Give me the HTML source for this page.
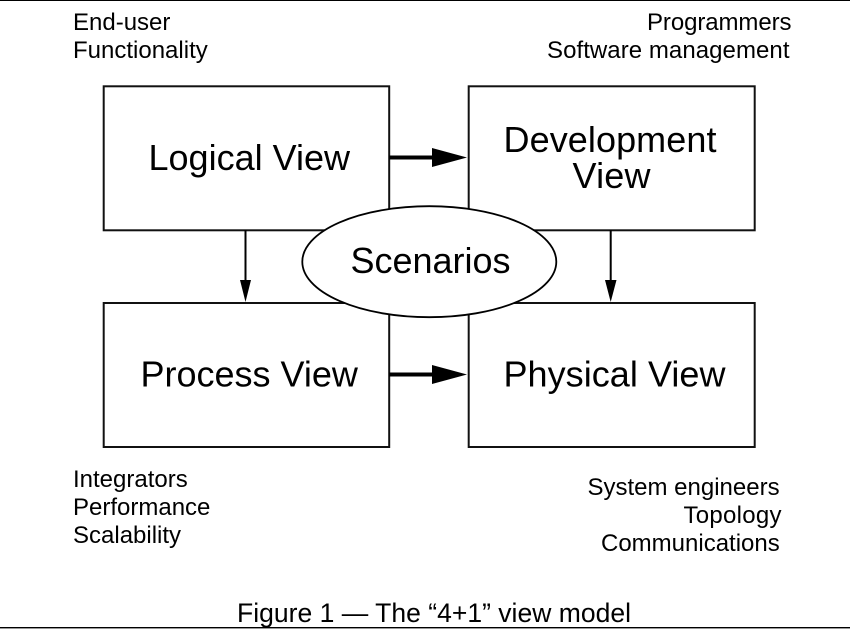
<!DOCTYPE html>
<html>
<head>
<meta charset="utf-8">
<style>
html,body{margin:0;padding:0;background:#fff;width:850px;height:632px;overflow:hidden}
svg{display:block}
text{font-family:"Liberation Sans",Arial,sans-serif;fill:#000}
.s{font-size:24px}
.b{font-size:36px}
.c{font-size:26.5px}
</style>
</head>
<body>
<svg width="850" height="632" viewBox="0 0 850 632" xmlns="http://www.w3.org/2000/svg">
<rect width="850" height="632" fill="#fff"/>
<rect x="0" y="0" width="850" height="1" fill="#000"/>

<g fill="none" stroke="#111" stroke-width="2">
<rect x="103.7" y="86.3" width="285.5" height="144"/>
<rect x="468.7" y="86.3" width="286" height="144"/>
<rect x="103.7" y="303" width="285.5" height="144"/>
<rect x="468.7" y="303" width="286" height="144"/>
</g>

<line x1="389" y1="157.5" x2="434" y2="157.5" stroke="#000" stroke-width="4"/>
<polygon points="432,148 467,157.5 432,167" fill="#000"/>
<line x1="389" y1="374.5" x2="434" y2="374.5" stroke="#000" stroke-width="4"/>
<polygon points="432,365 467,374.5 432,384" fill="#000"/>

<line x1="245.5" y1="230" x2="245.5" y2="285" stroke="#000" stroke-width="2"/>
<polygon points="240,280 251,280 245.5,302" fill="#000"/>
<line x1="610.7" y1="230" x2="610.7" y2="285" stroke="#000" stroke-width="2"/>
<polygon points="605,280 616.5,280 610.7,302" fill="#000"/>

<ellipse cx="429.3" cy="261.7" rx="127" ry="55.5" fill="#fff" stroke="#000" stroke-width="1.8"/>

<text class="b" x="148.500" y="170">Logical View</text>
<text class="b" x="503.500" y="152" textLength="213">Development</text>
<text class="b" x="572.500" y="188" textLength="78">View</text>
<text class="b" x="350.500" y="273" textLength="160">Scenarios</text>
<text class="b" x="140.500" y="386.500">Process View</text>
<text class="b" x="503.500" y="386.500" textLength="222">Physical View</text>

<text class="s" x="73" y="30">End-user</text>
<text class="s" x="73" y="58">Functionality</text>
<text class="s" x="647" y="30" textLength="144.500">Programmers</text>
<text class="s" x="547" y="58" textLength="242.500">Software management</text>
<text class="s" x="73" y="487">Integrators</text>
<text class="s" x="73" y="515">Performance</text>
<text class="s" x="73" y="543">Scalability</text>
<text class="s" x="587.500" y="495">System engineers</text>
<text class="s" x="683.500" y="523" textLength="98">Topology</text>
<text class="s" x="601" y="551">Communications</text>
<text class="c" x="237" y="622" textLength="394">Figure 1 — The “4+1” view model</text>
<rect x="0" y="627" width="850" height="1.4" fill="#000"/>
</svg>
</body>
</html>
